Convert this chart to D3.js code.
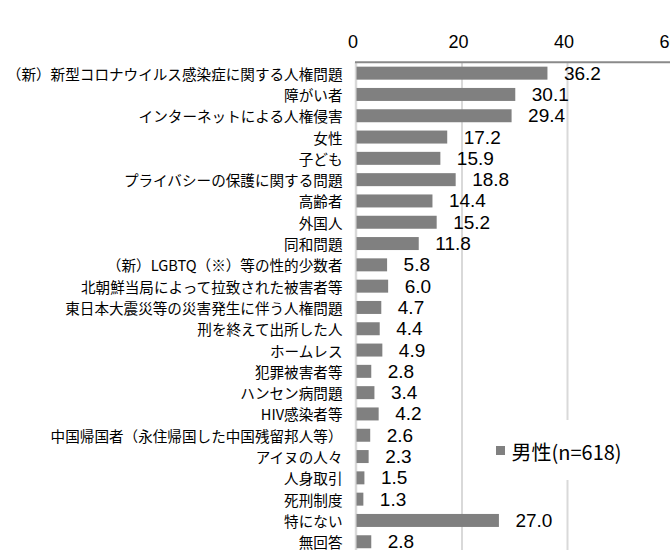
<!DOCTYPE html>
<html>
<head>
<meta charset="utf-8">
<script src="https://cdn.jsdelivr.net/npm/d3@7"></script>
<style>
  html, body { margin: 0; padding: 0; background: #fff; }
  svg { display: block; }
</style>
</head>
<body>
<svg id="chart" width="670" height="550"></svg>
<script>
// Survey items (top to bottom) and share of respondents, %
const categories = [
  "（新）新型コロナウイルス感染症に関する人権問題",
  "障がい者",
  "インターネットによる人権侵害",
  "女性",
  "子ども",
  "プライバシーの保護に関する問題",
  "高齢者",
  "外国人",
  "同和問題",
  "（新）LGBTQ（※）等の性的少数者",
  "北朝鮮当局によって拉致された被害者等",
  "東日本大震災等の災害発生に伴う人権問題",
  "刑を終えて出所した人",
  "ホームレス",
  "犯罪被害者等",
  "ハンセン病問題",
  "HIV感染者等",
  "中国帰国者（永住帰国した中国残留邦人等）",
  "アイヌの人々",
  "人身取引",
  "死刑制度",
  "特にない",
  "無回答"
];
const maleValues = [36.2, 30.1, 29.4, 17.2, 15.9, 18.8, 14.4, 15.2, 11.8, 5.8, 6.0, 4.7, 4.4, 4.9, 2.8, 3.4, 4.2, 2.6, 2.3, 1.5, 1.3, 27.0, 2.8];
const tickValues = [0, 20, 40, 60];
const seriesName = "男性(n=618)";

const svg = d3.select("#chart");

const x = d3.scaleLinear().domain([0, 60]).range([356.5, 673]);
const y = d3.scaleBand()
  .domain(categories)
  .range([62.5, 552.4])
  .paddingInner(0.39)
  .paddingOuter(0.195);

const plotTop = 62.3, plotBottom = 552.4;

// vertical gridlines
svg.append("g")
  .selectAll("line")
  .data(tickValues.filter(d => d > 0))
  .join("line")
  .attr("x1", d => x(d)).attr("x2", d => x(d))
  .attr("y1", plotTop).attr("y2", plotBottom)
  .attr("stroke", "#d9d9d9")
  .attr("stroke-width", 2);

// category axis line
svg.append("line")
  .attr("x1", x(0) - 0.5).attr("x2", x(0) - 0.5)
  .attr("y1", plotTop).attr("y2", plotBottom)
  .attr("stroke", "#d9d9d9")
  .attr("stroke-width", 2.5);

// bars
svg.append("g")
  .selectAll("rect")
  .data(categories.map((c, i) => ({ c, v: maleValues[i] })))
  .join("rect")
  .attr("x", x(0))
  .attr("y", d => y(d.c))
  .attr("width", d => x(d.v) - x(0))
  .attr("height", y.bandwidth())
  .attr("fill", "#808080");

// value axis on top
const xAxis = d3.axisTop(x)
  .tickValues(tickValues)
  .tickSize(0)
  .tickPadding(14.6)
  .tickFormat(d3.format("d"));
const gx = svg.append("g")
  .attr("transform", `translate(0,${plotTop})`)
  .call(xAxis);
gx.select(".domain").remove();
gx.selectAll("text")
  .attr("dx", -4)
  .attr("fill", "#000")
  .style("font-family", "'Liberation Sans', Arial, sans-serif")
  .style("font-size", "18px");

svg.append("line")
  .attr("x1", x(0) - 1.5).attr("x2", 673)
  .attr("y1", plotTop).attr("y2", plotTop)
  .attr("stroke", "#8a8a8a")
  .attr("stroke-width", 2);

// category labels
svg.append("g")
  .selectAll("text")
  .data(categories)
  .join("text")
  .attr("x", 342.5)
  .attr("y", d => y(d) + y.bandwidth() / 2)
  .attr("text-anchor", "end")
  .attr("dominant-baseline", "central")
  .style("font-family", "'Noto Sans CJK JP', sans-serif")
  .style("font-size", "14.6px")
  .attr("fill", "#000")
  .text(d => d);

// value labels
svg.append("g")
  .selectAll("text")
  .data(categories.map((c, i) => ({ c, v: maleValues[i] })))
  .join("text")
  .attr("x", d => x(d.v) + 16.5)
  .attr("y", d => y(d.c) + y.bandwidth() / 2)
  .attr("dominant-baseline", "central")
  .style("font-family", "'Liberation Sans Narrow', 'Arial Narrow', 'Liberation Sans', sans-serif")
  .style("font-size", "19px")
  .attr("fill", "#000")
  .text(d => d3.format(".1f")(d.v));

// legend
const legend = svg.append("g");
legend.append("rect")
  .attr("x", 488).attr("y", 420).attr("width", 142).attr("height", 60)
  .attr("fill", "#fff");
legend.append("rect")
  .attr("x", 496).attr("y", 446).attr("width", 9).attr("height", 9)
  .attr("fill", "#808080");
legend.append("text")
  .attr("x", 511.5).attr("y", 451)
  .attr("dominant-baseline", "central")
  .style("font-family", "'Noto Sans CJK JP', sans-serif")
  .style("font-size", "20px")
  .attr("fill", "#000")
  .text(seriesName);
</script>
</body>
</html>
